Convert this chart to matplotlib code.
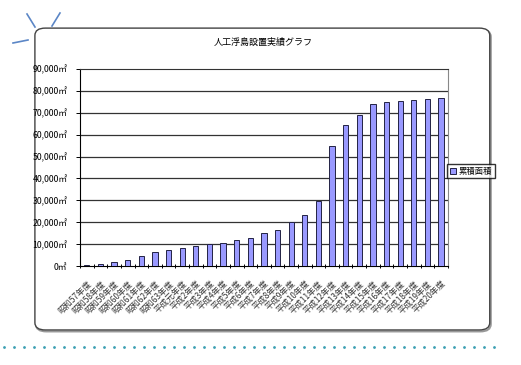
import matplotlib
matplotlib.use('Agg')
import matplotlib.pyplot as plt
from matplotlib.patches import FancyBboxPatch
from matplotlib.lines import Line2D
import numpy as np

plt.rcParams['font.family'] = ['Noto Sans CJK JP', 'DejaVu Sans']

years = ['昭和57年度', '昭和58年度', '昭和59年度', '昭和60年度', '昭和61年度',
         '昭和62年度', '昭和63年度', '平成元年度'] + ['平成%d年度' % n for n in range(2, 21)]
area = [500, 900, 2000, 2900, 4700, 6300, 7400, 8300, 9200, 9900,
        10500, 12100, 13000, 15000, 16300, 20000, 23500, 29900, 54900, 64200,
        69200, 73900, 74700, 75500, 75900, 76400, 76800]
yticks = list(range(0, 90001, 10000))

fig = plt.figure(figsize=(5.21, 3.65), dpi=100)

# rounded frame
frame_shadow = FancyBboxPatch((0.069, 0.092), 0.873, 0.827, boxstyle='round,pad=0,rounding_size=0.02',
                              transform=fig.transFigure, fc='none', ec='#999999', lw=1.5, zorder=-2)
frame = FancyBboxPatch((0.067, 0.096), 0.873, 0.827, boxstyle='round,pad=0,rounding_size=0.02',
                       transform=fig.transFigure, fc='white', ec='#444444', lw=1.0, zorder=-1)
fig.patches.extend([frame_shadow, frame])

# decoration top-left
for (x0, y0, x1, y1) in [(27, 14, 35, 27), (60, 13, 52, 26), (13, 43, 28, 40)]:
    fig.lines.append(Line2D([x0 / 521, x1 / 521], [1 - y0 / 365, 1 - y1 / 365],
                            transform=fig.transFigure, color='#5b86c6', lw=1.2))

# dotted line at bottom
xs = np.arange(4, 502, 10) / 521
fig.lines.append(Line2D(xs, np.full(len(xs), 1 - 347 / 365), transform=fig.transFigure,
                        ls='none', marker='o', ms=2, color='#3a9fb2', mec='none'))

fig.text(0.505, 0.883, '人工浮島設置実績グラフ', ha='center', va='center', fontsize=6.5)

ax = fig.add_axes([0.1536, 0.271, 0.706, 0.540])
ax.patch.set_alpha(0)
x = np.arange(len(years))
ax.bar(x, area, width=0.38, color='#9999ff', edgecolor='#222244', lw=0.7, label='累積面積', zorder=3)
ax.set_ylim(0, 90000)
ax.set_xlim(-0.5, len(years) - 0.5)
ax.set_yticks(yticks)
ax.set_yticklabels(['{:,}㎡'.format(v) for v in yticks], fontsize=6.3)
for v in yticks[1:-1]:
    ax.axhline(v, color='#333333', lw=0.9, zorder=1)
ax.set_xticks(x)
ax.set_xticklabels(years, rotation=45, ha='right', rotation_mode='anchor', fontsize=6,
                   color='#333333')
ax.set_xticks(np.arange(-0.5, len(years), 1), minor=True)
ax.tick_params(axis='x', which='major', length=0, pad=9)
ax.tick_params(axis='x', which='minor', length=3, direction='inout', width=0.7)
ax.tick_params(axis='y', length=3, width=0.7, pad=6)
ax.spines['left'].set_color('black')
ax.spines['bottom'].set_color('black')
ax.spines['top'].set_color('#333333')
ax.spines['right'].set_color('#888888')

fig.legend(loc='center left', bbox_to_anchor=(0.850, 0.531), fontsize=6, frameon=True,
           fancybox=False, edgecolor='black', handlelength=0.8, handleheight=0.8,
           borderpad=0.3, handletextpad=0.3)

fig.savefig('out.png', dpi=100)
